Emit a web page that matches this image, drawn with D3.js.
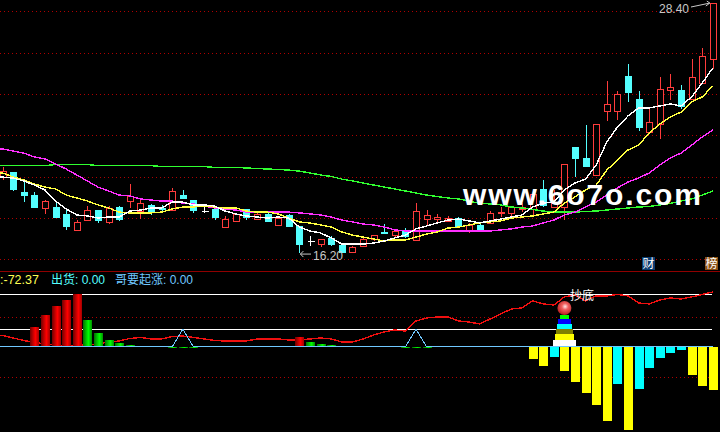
<!DOCTYPE html>
<html><head><meta charset="utf-8">
<style>html,body{margin:0;padding:0;background:#000;overflow:hidden}svg{display:block}text{font-family:"Liberation Sans","Noto Sans CJK SC",sans-serif}</style>
<script src="https://cdn.jsdelivr.net/npm/d3@7/dist/d3.min.js"></script>
</head><body><svg id="c" width="720" height="432"></svg>
<script>
const opens=[19.91,20.16,19.18,19.03,18.40,18.45,18.11,17.33,17.81,18.30,17.72,18.45,18.74,18.25,18.55,18.40,18.30,19.03,18.79,18.25,18.35,17.47,17.77,18.35,17.86,18.11,17.57,18.06,17.52,16.79,16.64,16.94,16.59,16.25,16.55,16.89,17.23,17.08,17.28,16.84,17.86,17.86,17.77,17.91,17.28,17.57,17.67,18.16,18.16,18.35,18.35,19.33,18.45,18.45,21.38,20.84,20.01,23.13,23.13,24.84,23.72,22.11,22.50,24.16,24.16,23.72,24.50,25.67];
const highs=[20.40,20.16,19.67,19.18,18.79,18.69,18.35,17.81,18.50,18.30,18.50,18.50,19.57,18.84,18.60,18.55,19.38,19.28,18.79,18.50,18.45,18.01,18.16,18.35,18.20,18.16,18.01,18.11,17.52,17.03,16.89,17.03,16.59,16.55,16.98,17.08,17.62,17.38,17.42,18.64,18.30,18.11,18.01,17.96,17.67,17.67,18.25,18.45,18.50,18.64,19.13,19.77,19.28,20.55,21.38,22.45,22.50,24.60,24.11,25.43,24.11,23.33,24.79,24.94,24.40,25.67,26.21,28.40];
const lows=[19.77,19.23,18.69,18.40,18.11,17.96,17.33,17.28,17.77,17.67,17.62,17.77,18.40,17.86,18.06,18.16,18.30,18.84,18.16,18.16,17.81,17.47,17.77,17.81,17.81,17.72,17.52,17.52,16.20,16.55,16.50,16.55,16.25,16.25,16.55,16.79,17.13,16.94,16.94,16.84,17.57,17.72,17.77,17.42,17.18,17.28,17.62,17.96,17.96,18.20,18.06,18.45,18.45,17.81,19.91,20.40,20.01,22.64,22.69,23.57,22.16,22.11,21.77,23.67,23.23,23.72,24.50,25.18];
const closes=[20.20,19.33,19.03,18.45,18.74,17.96,17.52,17.72,18.30,17.81,18.40,17.86,18.99,18.64,18.25,18.35,19.23,18.89,18.30,18.25,17.96,17.86,18.11,17.96,18.11,17.77,17.91,17.52,16.64,16.79,16.89,16.64,16.25,16.50,16.89,17.08,17.18,17.28,17.03,18.25,18.06,17.96,17.91,17.52,17.57,17.28,18.16,18.20,18.45,18.45,19.08,18.55,18.64,20.55,20.84,20.45,22.50,23.48,23.96,24.06,22.35,22.60,24.21,24.30,23.38,24.79,25.82,28.38];
const whiteMarks=[19,29];
const ma5=[19.91,19.86,19.72,19.52,19.28,18.74,18.35,18.06,18.01,17.91,17.96,17.96,18.25,18.30,18.40,18.40,18.69,18.69,18.55,18.55,18.50,18.25,18.11,18.01,17.96,17.91,17.96,17.91,17.47,17.28,17.18,16.94,16.64,16.64,16.64,16.69,16.79,16.94,17.08,17.38,17.52,17.67,17.81,17.86,17.77,17.67,17.77,17.86,17.96,18.06,18.45,18.64,18.69,19.28,19.62,19.81,20.50,21.62,22.35,22.89,23.28,23.28,23.38,23.48,23.38,23.82,24.50,25.23];
const ma10=[20.11,19.91,19.77,19.57,19.42,19.33,19.03,18.89,18.74,18.55,18.40,18.20,18.16,18.16,18.16,18.20,18.35,18.45,18.45,18.50,18.45,18.40,18.40,18.25,18.20,18.20,18.11,17.91,17.72,17.67,17.57,17.47,17.23,17.08,16.98,16.89,16.79,16.84,16.84,16.98,17.13,17.23,17.42,17.47,17.57,17.67,17.72,17.77,17.91,17.96,18.01,18.11,18.20,18.64,18.94,19.28,19.52,20.25,20.74,21.23,21.47,22.06,22.50,22.84,23.08,23.57,23.82,24.35];
const ma30=[21.28,21.18,21.08,20.89,20.79,20.55,20.30,20.01,19.72,19.42,19.23,19.03,18.99,18.84,18.79,18.74,18.74,18.64,18.60,18.50,18.40,18.35,18.30,18.20,18.20,18.20,18.20,18.20,18.16,18.11,18.06,17.96,17.81,17.72,17.62,17.57,17.47,17.33,17.28,17.28,17.28,17.28,17.28,17.28,17.28,17.28,17.28,17.33,17.38,17.47,17.52,17.67,17.81,18.06,18.20,18.45,18.69,19.03,19.38,19.67,19.86,20.11,20.50,20.84,21.08,21.47,21.86,22.21];
const ma60=[20.47,20.47,20.47,20.47,20.47,20.52,20.52,20.52,20.52,20.47,20.47,20.47,20.47,20.47,20.47,20.42,20.42,20.42,20.42,20.42,20.38,20.38,20.38,20.35,20.33,20.30,20.28,20.25,20.20,20.11,20.01,19.94,19.81,19.72,19.62,19.52,19.42,19.33,19.23,19.13,19.03,18.96,18.89,18.84,18.74,18.62,18.60,18.55,18.45,18.40,18.33,18.25,18.20,18.20,18.20,18.23,18.25,18.30,18.35,18.40,18.45,18.47,18.55,18.62,18.74,18.84,19.03,19.23];
const gridPrices=[27.99,25.97,23.96,21.94,19.93,17.91,15.90];
const trendLine=[19.4,15.2,10.9,7.6,5.1,3.4,2.5,2.5,3.4,5.1,8.4,10.1,14.3,16,13.5,13.5,17.7,18.5,16,13.5,10.9,10.1,10.1,10.1,13.5,13.5,13.5,11.8,11.8,13.5,15.2,13.5,8.4,8.4,13.5,20.2,25.3,28.6,26.9,43.8,48.8,50.5,50.5,43.8,42.1,38.7,47.2,55.6,64,65.7,77.5,72.4,70.7,84.2,87.6,77.5,85.9,85.9,88.4,85.9,74.1,72.4,79.1,82.5,80.8,84.2,88.4,92.6];
const redBarIdx=[3,4,5,6,7,28];
const redBarVal=[33.7,53.9,69,79,89,16.8];
const greenBarIdx=[8,9,10,11,12,13,14,15,16,17,18,29,30,31,32,33,38,39,40];
const greenBarVal=[45.5,23.6,11.8,6.7,3.4,1.7,1.7,1.7,0.8,0.8,0.8,8.4,5,3.4,1.7,1.7,0.8,0.8,0.8];
const yellowBarIdx=[50,51,53,54,55,56,57,59,65,66,67];
const yellowBarVal=[-20.2,-32,-40.4,-58.9,-77.5,-97.7,-124.6,-139.8,-47.2,-65.7,-72.37];
const cyanBarIdx=[52,58,60,61,62,63,64];
const cyanBarVal=[-16.8,-62.3,-70.7,-35.4,-18.5,-10.1,-5];
const peakIdx=[17,39];
const signalLevels=[90,30];
const subGrid=[50,-50];
const tierLow=[1.7,11.8,21.9,30.3,38.7,47.2];
const tierHigh=[11.8,21.9,30.3,38.7,47.2,53.9];
const tierWidth=[23,19,17,15,13,9];
const tierColor=["#ffffff","#ffff00","#808000","#00ffff","#0000ff","#00ff00"];
const tierIdx=53, ballValue=65.7;

const svg=d3.select("#c");
const x=d3.scaleLinear().domain([0,67]).range([2.6,712.8]);
const y=d3.scaleLinear().domain([16.35,28.55]).range([250,0]);
const s=d3.scaleLinear().domain([-100,90]).range([406.4,293.5]);
const W=720,lastX=x(67)-1,bw=7,sbw=9;
const defs=svg.append("defs");
function grad(id,a,b,c){const g=defs.append("linearGradient").attr("id",id);
 g.append("stop").attr("offset","0").attr("stop-color",a);g.append("stop").attr("offset","0.6").attr("stop-color",b);g.append("stop").attr("offset","1").attr("stop-color",c);}
grad("gr","#700000","#ff0000","#a00000");grad("gg","#007000","#00ff00","#009000");
const rg=defs.append("radialGradient").attr("id","ball").attr("cx","0.55").attr("cy","0.4").attr("r","0.65");
rg.append("stop").attr("offset","0").attr("stop-color","#ffe8e8");rg.append("stop").attr("offset","0.35").attr("stop-color","#f06060");rg.append("stop").attr("offset","1").attr("stop-color","#b01818");

svg.append("rect").attr("width",W).attr("height",432).attr("fill","#000");
const crisp=svg.append("g").attr("shape-rendering","crispEdges");
crisp.selectAll(".g1").data(gridPrices).join("line").attr("x1",0).attr("x2",W)
 .attr("y1",d=>Math.round(y(d))+.5).attr("y2",d=>Math.round(y(d))+.5)
 .attr("stroke","#b00000").attr("stroke-dasharray","1 3");
crisp.append("line").attr("x1",0).attr("x2",W).attr("y1",271.5).attr("y2",271.5).attr("stroke","#900000");
crisp.selectAll(".g2").data(subGrid).join("line").attr("x1",0).attr("x2",W)
 .attr("y1",d=>Math.round(s(d))+.5).attr("y2",d=>Math.round(s(d))+.5)
 .attr("stroke","#b00000").attr("stroke-dasharray","1 3");

// candles
const RED="#ff3c3c",CY="#54ffff";
const idx=d3.range(opens.length);
const px=v=>Math.round(v);
idx.forEach(i=>{
 const cx=px(x(i))+.5,top=y(Math.max(opens[i],closes[i])),bot=y(Math.min(opens[i],closes[i]));
 const up=closes[i]>=opens[i],wm=whiteMarks.includes(i),col=wm?"#ffffff":(up?RED:CY);
 crisp.append("line").attr("x1",cx).attr("x2",cx).attr("y1",y(highs[i])).attr("y2",y(lows[i])).attr("stroke",col);
 if(wm){crisp.append("line").attr("x1",cx-3).attr("x2",cx+4).attr("y1",px(top)+.5).attr("y2",px(top)+.5).attr("stroke",col);return;}
 const t=px(top),h=Math.max(1,px(bot)-t);
 const r=crisp.append("rect").attr("x",px(x(i))-3+.5).attr("width",bw-1).attr("y",t+.5).attr("height",h);
 if(up) r.attr("fill","#000").attr("stroke",col); else r.attr("fill",col).attr("stroke",col);
});
// the series run from the window's left edge, one part-step before the first candle
const leftEdge=x.invert(0);
const fromEdge=(a,scale)=>d3.line().x(d=>x(d[0])).y(d=>scale(d[1]))([[leftEdge,a[0]]].concat(a.map((v,i)=>[i,v])));
[[ma60,"#30ff30"],[ma30,"#ff30ff"],[ma10,"#ffff40"],[ma5,"#ffffff"]].forEach(([a,c])=>{
 crisp.append("path").attr("d",fromEdge(a,y)).attr("fill","none").attr("stroke",c).attr("stroke-width",1.4);
});

// price labels
const gray="#c8c8c8";
const t1=svg.append("g");
t1.append("text").attr("x",659).attr("y",12.5).attr("fill",gray).attr("font-size",12).text("28.40");
t1.append("line").attr("x1",691).attr("y1",7).attr("x2",x(67)-3).attr("y2",y(28.40)).attr("stroke",gray);
t1.append("path").attr("d",`M${x(67)-6},${y(28.40)-2}L${x(67)-3},${y(28.40)}L${x(67)-7},${y(28.40)+3}`).attr("fill","none").attr("stroke",gray);
t1.append("text").attr("x",313).attr("y",260).attr("fill",gray).attr("font-size",12).text("16.20");
t1.append("line").attr("x1",311).attr("y1",y(16.20)+1).attr("x2",x(28)+1).attr("y2",y(16.20)+1).attr("stroke",gray);
t1.append("path").attr("d",`M${x(28)+4},${y(16.20)-2}L${x(28)+1},${y(16.20)+1}L${x(28)+4},${y(16.20)+4}`).attr("fill","none").attr("stroke",gray);

// badges
[[642,"#0a3c70","财"],[705,"#8a5014","榜"]].forEach(([bx,c,t])=>{
 svg.append("rect").attr("x",bx).attr("y",257).attr("width",13).attr("height",13).attr("fill",c);
 svg.append("text").attr("x",bx+6.5).attr("y",268).attr("text-anchor","middle").attr("fill","#fff").attr("font-size",12).text(t);
});

// sub chart
const sub=svg.append("g").attr("shape-rendering","crispEdges");
const s0=s(0);
function bars(ix,v,fill,w){sub.selectAll(null).data(ix).join("rect")
 .attr("x",d=>px(x(d))-Math.floor(w/2)).attr("width",w)
 .attr("y",(d,i)=>Math.min(s(v[i]),s0)).attr("height",(d,i)=>Math.max(1,Math.abs(s(v[i])-s0))).attr("fill",fill);}
signalLevels.forEach(l=>sub.append("line").attr("x1",0).attr("x2",lastX).attr("y1",px(s(l))+.5).attr("y2",px(s(l))+.5).attr("stroke","#fff"));
sub.append("path").attr("d",fromEdge(trendLine,s)).attr("fill","none").attr("stroke","#f01010").attr("stroke-width",1.4);
bars(redBarIdx,redBarVal,"url(#gr)",sbw);
bars(greenBarIdx,greenBarVal,"url(#gg)",sbw);
bars(yellowBarIdx,yellowBarVal,"#ffff00",sbw);
bars(cyanBarIdx,cyanBarVal,"#00ffff",sbw);
const peaks=idx.map(i=>peakIdx.includes(i)?signalLevels[1]:0);
sub.append("path").attr("d",fromEdge(peaks,s)).attr("fill","none").attr("stroke","#70c8ff");

// pyramid
sub.selectAll(null).data(tierLow).join("rect")
 .attr("x",(d,i)=>px(x(tierIdx))-Math.floor(tierWidth[i]/2)).attr("width",(d,i)=>tierWidth[i])
 .attr("y",(d,i)=>px(s(tierHigh[i]))).attr("height",(d,i)=>px(s(d))-px(s(tierHigh[i])))
 .attr("fill",(d,i)=>tierColor[i]);
svg.append("circle").attr("cx",x(tierIdx)).attr("cy",s(ballValue)).attr("r",7).attr("fill","url(#ball)");
svg.append("text").attr("x",570).attr("y",300).attr("fill","#fff").attr("font-size",12).text("抄底");

// header
svg.append("text").attr("x",0).attr("y",284).attr("font-size",12.5).attr("fill","#ffff54").text(":-72.37");
svg.append("text").attr("x",51).attr("y",284).attr("font-size",12).attr("fill","#54ffff").text("出货: 0.00");
svg.append("text").attr("x",115).attr("y",284).attr("font-size",12).attr("fill","#70c8ff").text("哥要起涨: 0.00");

// watermark
svg.append("text").attr("x",463).attr("y",205).attr("font-size",30).attr("font-weight","bold")
 .attr("fill","#fff").attr("textLength",238).attr("lengthAdjust","spacing").text("www.6o7o.com");
</script></body></html>
